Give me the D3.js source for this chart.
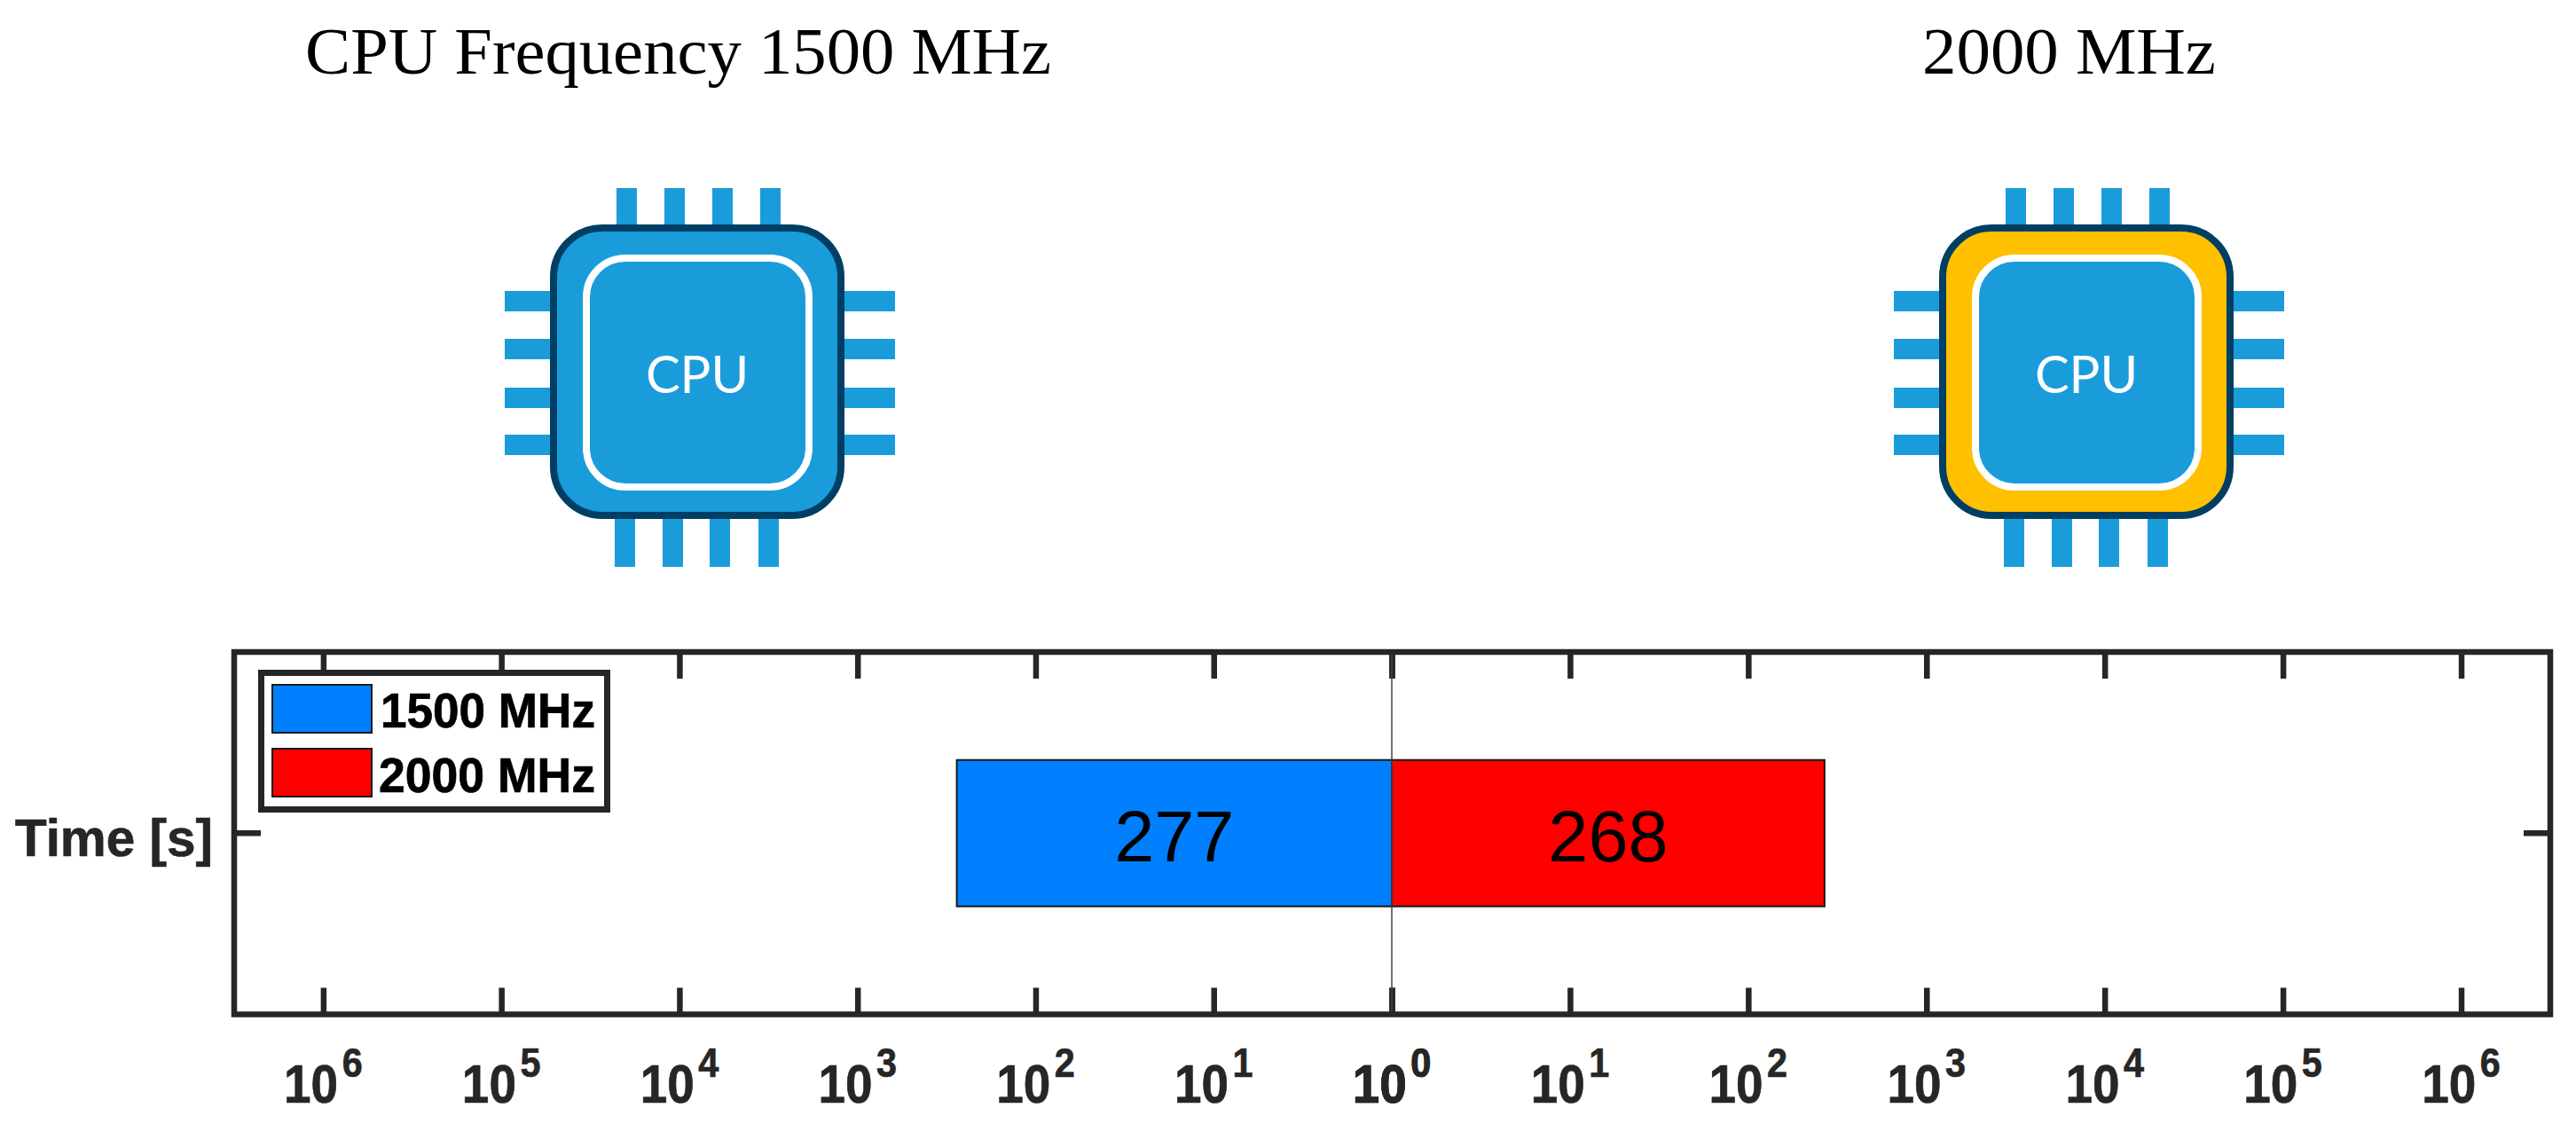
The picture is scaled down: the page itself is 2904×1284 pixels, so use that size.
<!DOCTYPE html>
<html><head><meta charset="utf-8">
<script src="https://cdn.jsdelivr.net/npm/d3@7/dist/d3.min.js"></script>
<style>html,body{margin:0;padding:0;background:#fff;overflow:hidden}svg{display:block}</style>
</head><body><div id="chart"></div>
<script>
const categories = ["Time [s]"];
const seriesNames = ["1500 MHz", "2000 MHz"];
const seriesValues = [277, 268];
const seriesColors = ["#007FFF", "#FF0000"];
const tickExponents = [0, 1, 2, 3, 4, 5, 6];
const titles = ["CPU Frequency 1500 MHz", "2000 MHz"];

const W = 2904, H = 1284, ink = "#262626";
const frame = {l: 264, r: 2875, t: 735, b: 1143.5, mid: 1569};
const svg = d3.select("#chart").append("svg").attr("width", W).attr("height", H);
const sans = "'Liberation Sans',Arial,sans-serif";

// Titles
const serif = "'Liberation Serif','Times New Roman',serif";
svg.append("text").attr("x", 344).attr("y", 83).attr("font-family", serif).attr("font-size", 74)
  .attr("textLength", 841).attr("lengthAdjust", "spacingAndGlyphs").text(titles[0]);
svg.append("text").attr("x", 2167).attr("y", 83).attr("font-family", serif).attr("font-size", 74)
  .attr("textLength", 331).attr("lengthAdjust", "spacingAndGlyphs").text(titles[1]);

// CPU icons
const pinBlue = "#1A9CDB", dark = "#003F63";
function cpu(dx, bodyFill) {
  const g = svg.append("g").attr("transform", `translate(${dx},0)`);
  const pin = (x, y, w, h) => g.append("rect").attr("x", x).attr("y", y).attr("width", w).attr("height", h).attr("fill", pinBlue);
  [695, 749, 803, 857].forEach(x => pin(x, 212, 23, 45));
  [693, 747, 800, 855].forEach(x => pin(x, 581, 23, 58));
  [328, 382, 437, 490].forEach(y => { pin(569, y, 55, 23); pin(948, y, 61, 23); });
  g.append("rect").attr("x", 624).attr("y", 257).attr("width", 324).attr("height", 324).attr("rx", 55)
    .attr("fill", bodyFill).attr("stroke", dark).attr("stroke-width", 8);
  g.append("rect").attr("x", 661).attr("y", 291).attr("width", 251).attr("height", 258).attr("rx", 44)
    .attr("fill", pinBlue).attr("stroke", "#fff").attr("stroke-width", 8);
  g.append("text").attr("x", 786).attr("y", 443).attr("text-anchor", "middle")
    .attr("font-family", "Lato,'Open Sans',sans-serif").attr("font-size", 58).attr("fill", "#fff").text("CPU");
}
cpu(0, pinBlue);
cpu(1566, "#FFC000");

// Scales: mirrored log axes
const domain = [1, Math.pow(10, 6.5)];
const xLeft = d3.scaleLog().domain(domain).range([frame.mid, frame.l]);
const xRight = d3.scaleLog().domain(domain).range([frame.mid, frame.r]);
const xScales = [xLeft, xRight];
const y = d3.scaleBand().domain(categories).range([frame.t, frame.b]).padding(0.4245);
const tickVals = tickExponents.map(e => Math.pow(10, e));
const yMid = y(categories[0]) + y.bandwidth() / 2;

// Bars
seriesValues.forEach((v, i) => {
  const x = xScales[i], a = x(1), b = x(v);
  svg.append("rect").attr("x", Math.min(a, b)).attr("y", y(categories[0]))
    .attr("width", Math.abs(b - a)).attr("height", y.bandwidth())
    .attr("fill", seriesColors[i]).attr("stroke", "#1a1a1a").attr("stroke-width", 2);
  svg.append("text").attr("x", (a + b) / 2).attr("y", yMid + 31.5)
    .attr("text-anchor", "middle").attr("font-family", sans)
    .attr("font-size", 81).attr("fill", "#000").text(v);
});

// Axes
const tickLen = 30;
function styleAxis(g) {
  g.select(".domain").remove();
  g.selectAll(".tick line").attr("stroke", ink).attr("stroke-width", 6.5);
}
xScales.forEach(x => {
  svg.append("g").attr("transform", `translate(0,${frame.b})`)
    .call(d3.axisBottom(x).tickValues(tickVals).tickSizeInner(-tickLen).tickSizeOuter(0).tickFormat(() => ""))
    .call(styleAxis);
  svg.append("g").attr("transform", `translate(0,${frame.t})`)
    .call(d3.axisTop(x).tickValues(tickVals).tickSizeInner(-tickLen).tickSizeOuter(0).tickFormat(() => ""))
    .call(styleAxis);
  tickExponents.forEach(e => {
    const t = svg.append("text").attr("text-anchor", "middle")
      .attr("transform", `translate(${x(Math.pow(10, e))},1243) scale(0.9,1)`)
      .attr("font-family", sans).attr("font-weight", 700)
      .attr("font-size", 61).attr("fill", ink).attr("stroke", ink).attr("stroke-width", 0.7);
    t.append("tspan").text("10");
    t.append("tspan").attr("dx", 5).attr("dy", -29).attr("font-size", 46).text(e);
  });
});
svg.append("g").attr("transform", `translate(${frame.l},0)`)
  .call(d3.axisLeft(y).tickSizeInner(-tickLen).tickSizeOuter(0).tickFormat(() => "")).call(styleAxis);
svg.append("g").attr("transform", `translate(${frame.r},0)`)
  .call(d3.axisRight(y).tickSizeInner(-tickLen).tickSizeOuter(0).tickFormat(() => "")).call(styleAxis);
svg.append("text").attr("x", 17).attr("y", yMid + 25.5)
  .attr("font-family", sans).attr("font-weight", 700).attr("font-size", 60)
  .attr("textLength", 223).attr("lengthAdjust", "spacingAndGlyphs")
  .attr("fill", ink).attr("stroke", ink).attr("stroke-width", 0.7).text(categories[0]);

// Centre line and frame
svg.append("line").attr("x1", frame.mid).attr("x2", frame.mid).attr("y1", frame.t).attr("y2", frame.b)
  .attr("stroke", "#444").attr("stroke-width", 1.5);
svg.append("rect").attr("x", frame.l).attr("y", frame.t).attr("width", frame.r - frame.l).attr("height", frame.b - frame.t)
  .attr("fill", "none").attr("stroke", ink).attr("stroke-width", 6.5);

// Legend
svg.append("rect").attr("x", 294.5).attr("y", 758.5).attr("width", 390).attr("height", 154)
  .attr("fill", "#fff").attr("stroke", ink).attr("stroke-width", 7);
[[772, 54, 429, 820], [844, 54, 427, 893]].forEach(([ly, lh, tx, ty], i) => {
  svg.append("rect").attr("x", 307).attr("y", ly).attr("width", 112).attr("height", lh)
    .attr("fill", seriesColors[i]).attr("stroke", "#1a1a1a").attr("stroke-width", 2);
  svg.append("text").attr("x", tx).attr("y", ty)
    .attr("font-family", sans).attr("font-weight", 700).attr("font-size", 55)
    .attr("textLength", 671 - tx).attr("lengthAdjust", "spacingAndGlyphs")
    .attr("fill", "#000").attr("stroke", "#000").attr("stroke-width", 0.7).text(seriesNames[i]);
});
</script></body></html>
